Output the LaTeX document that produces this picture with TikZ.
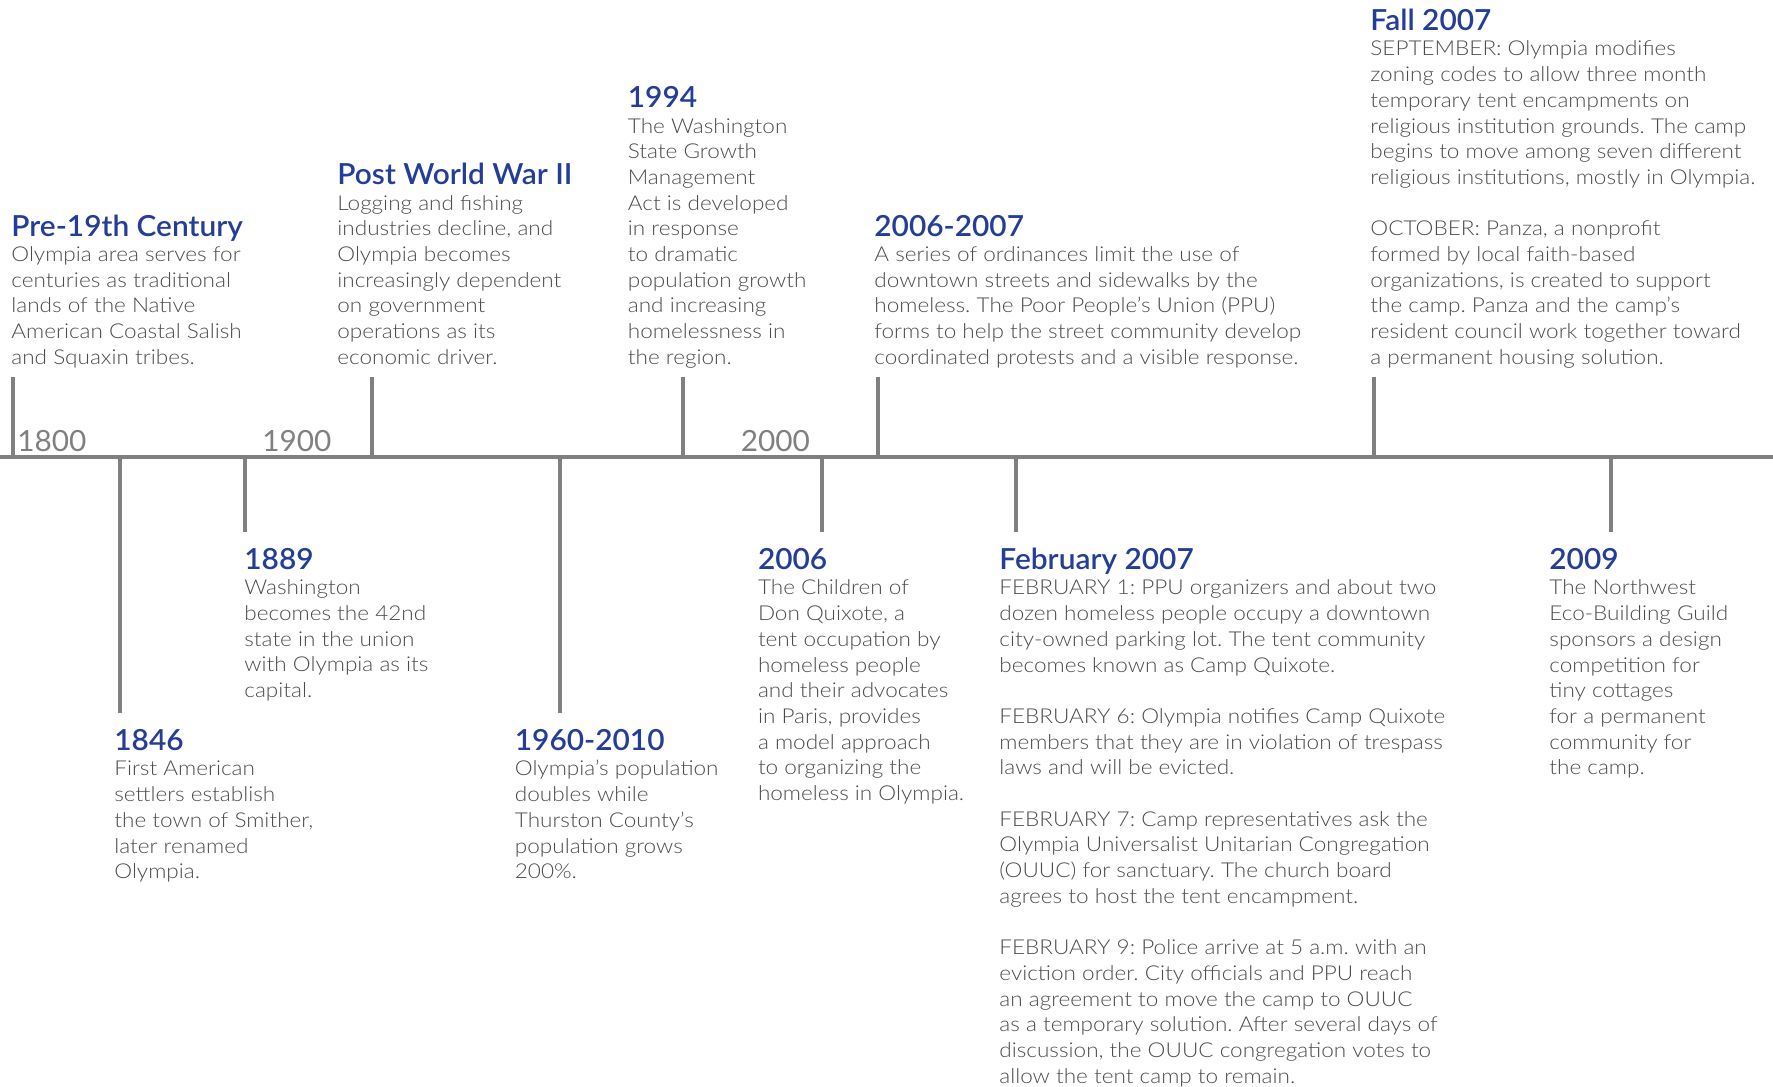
\documentclass[tikz,border=0pt]{standalone}
\usepackage{fontspec}
\setmainfont{Lato}
\frenchspacing
\newfontfamily\bodyfont{Lato Light}[FakeStretch=1.10]
\IfFontExistsTF{Lato Semibold}
  {\newfontfamily\titlefont{Lato Semibold}[FakeStretch=1.03]}
  {\newfontfamily\titlefont{Lato Bold}[FakeStretch=1.01]}
\newfontfamily\yearfont{Lato}[FakeStretch=1.02]
\definecolor{tblue}{RGB}{36,62,152}
\definecolor{tgray}{RGB}{75,75,75}
\definecolor{lgray}{RGB}{128,128,130}
\tikzset{
  axisline/.style={draw=lgray, line width=2pt},
  tickline/.style={draw=lgray, line width=2pt},
  evtitle/.style={anchor=base west, inner sep=0pt, text=tblue, font=\titlefont\fontsize{14.5}{17}\selectfont},
  evbody/.style={anchor=north west, inner sep=0pt, text=tgray, align=left, font=\bodyfont\fontsize{10.25}{12.85}\selectfont\frenchspacing},
  yearlabel/.style={anchor=base west, inner sep=0pt, text=lgray, font=\yearfont\fontsize{14.6}{17}\selectfont},
}
\begin{document}
\begin{tikzpicture}[x=0.5pt,y=-0.5pt]
\useasboundingbox (0,0) rectangle (1773,1087);
% axis
\coordinate (axL) at (0,456.7);
\coordinate (axR) at (1773,456.7);
\draw[axisline] (axL) -- (axR);
% year labels
\node[yearlabel] (y1800) at (17,451) {1800};
\node[yearlabel] (y1900) at (262,451) {1900};
\node[yearlabel] (y2000) at (740.5,451) {2000};
% upper ticks
\foreach \n/\x in {pre/12.7, pww/372.3, y94/682.7, y0607/877.7, fall/1373.7}{
  \coordinate (\n top) at (\x,377);
  \coordinate (\n ax) at (\x,456.7);
  \draw[tickline] (\n top) -- (\n ax);
}
% lower ticks
\foreach \n/\x/\b in {y1846/120/713, y1889/245.3/532, y1960/560.3/713, y2006/821.7/532, feb/1016/532, y2009/1611.3/532}{
  \coordinate (\n ax) at (\x,456.7);
  \coordinate (\n bot) at (\x,\b);
  \draw[tickline] (\n ax) -- (\n bot);
}
% ---------- upper events ----------
\node[evtitle] (preT) at (11,236) {Pre-19th Century};
\node[evbody] (preB) at (11,243) {\strut Olympia area serves for\\
centuries as traditional\\
lands of the Native\\
American Coastal Salish\\
and Squaxin tribes.};

\node[evtitle] (pwwT) at (337,184.8) {Post World War II};
\node[evbody] (pwwB) at (337,191.8) {\strut Logging and fishing\\
industries decline, and\\
Olympia becomes\\
increasingly dependent\\
on government\\
operations as its\\
economic driver.};

\node[evtitle] (y94T) at (627.5,107.7) {1994};
\node[evbody] (y94B) at (627.5,114.7) {\strut The Washington\\
State Growth\\
Management\\
Act is developed\\
in response\\
to dramatic\\
population growth\\
and increasing\\
homelessness in\\
the region.};

\node[evtitle] (y0607T) at (874,236) {2006-2007};
\node[evbody] (y0607B) at (874,243) {\strut A series of ordinances limit the use of\\
downtown streets and sidewalks by the\\
homeless. The Poor People’s Union (PPU)\\
forms to help the street community develop\\
coordinated protests and a visible response.};

\node[evtitle] (fallT) at (1370,30.6) {Fall 2007};
\node[evbody] (fallB) at (1370,37.6) {\strut SEPTEMBER: Olympia modifies\\
zoning codes to allow three month\\
temporary tent encampments on\\
religious institution grounds. The camp\\
begins to move among seven different\\
religious institutions, mostly in Olympia.\\[12.85pt]
OCTOBER: Panza, a nonprofit\\
formed by local faith-based\\
organizations, is created to support\\
the camp. Panza and the camp’s\\
resident council work together toward\\
a permanent housing solution.};

% ---------- lower events ----------
\node[evtitle] (y1846T) at (114,750) {1846};
\node[evbody] (y1846B) at (114,757.5) {\strut First American\\
settlers establish\\
the town of Smither,\\
later renamed\\
Olympia.};

\node[evtitle] (y1889T) at (244,569) {1889};
\node[evbody] (y1889B) at (244,576.5) {\strut Washington\\
becomes the 42nd\\
state in the union\\
with Olympia as its\\
capital.};

\node[evtitle] (y1960T) at (514.5,750) {1960-2010};
\node[evbody] (y1960B) at (514.5,757.5) {\strut Olympia’s population\\
doubles while\\
Thurston County’s\\
population grows\\
200\%.};

\node[evtitle] (y2006T) at (757.6,569) {2006};
\node[evbody] (y2006B) at (757.6,576.5) {\strut The Children of\\
Don Quixote, a\\
tent occupation by\\
homeless people\\
and their advocates\\
in Paris, provides\\
a model approach\\
to organizing the\\
homeless in Olympia.};

\node[evtitle] (febT) at (999,569) {February 2007};
\node[evbody] (febB) at (999,576.5) {\strut FEBRUARY 1: PPU organizers and about two\\
dozen homeless people occupy a downtown\\
city-owned parking lot. The tent community\\
becomes known as Camp Quixote.\\[12.85pt]
FEBRUARY 6: Olympia notifies Camp Quixote\\
members that they are in violation of trespass\\
laws and will be evicted.\\[12.85pt]
FEBRUARY 7: Camp representatives ask the\\
Olympia Universalist Unitarian Congregation\\
(OUUC) for sanctuary. The church board\\
agrees to host the tent encampment.\\[12.85pt]
FEBRUARY 9: Police arrive at 5 a.m. with an\\
eviction order. City officials and PPU reach\\
an agreement to move the camp to OUUC\\
as a temporary solution. After several days of\\
discussion, the OUUC congregation votes to\\
allow the tent camp to remain.};

\node[evtitle] (y2009T) at (1549,569) {2009};
\node[evbody] (y2009B) at (1549,576.5) {\strut The Northwest\\
Eco-Building Guild\\
sponsors a design\\
competition for\\
tiny cottages\\
for a permanent\\
community for\\
the camp.};
\end{tikzpicture}
\end{document}
